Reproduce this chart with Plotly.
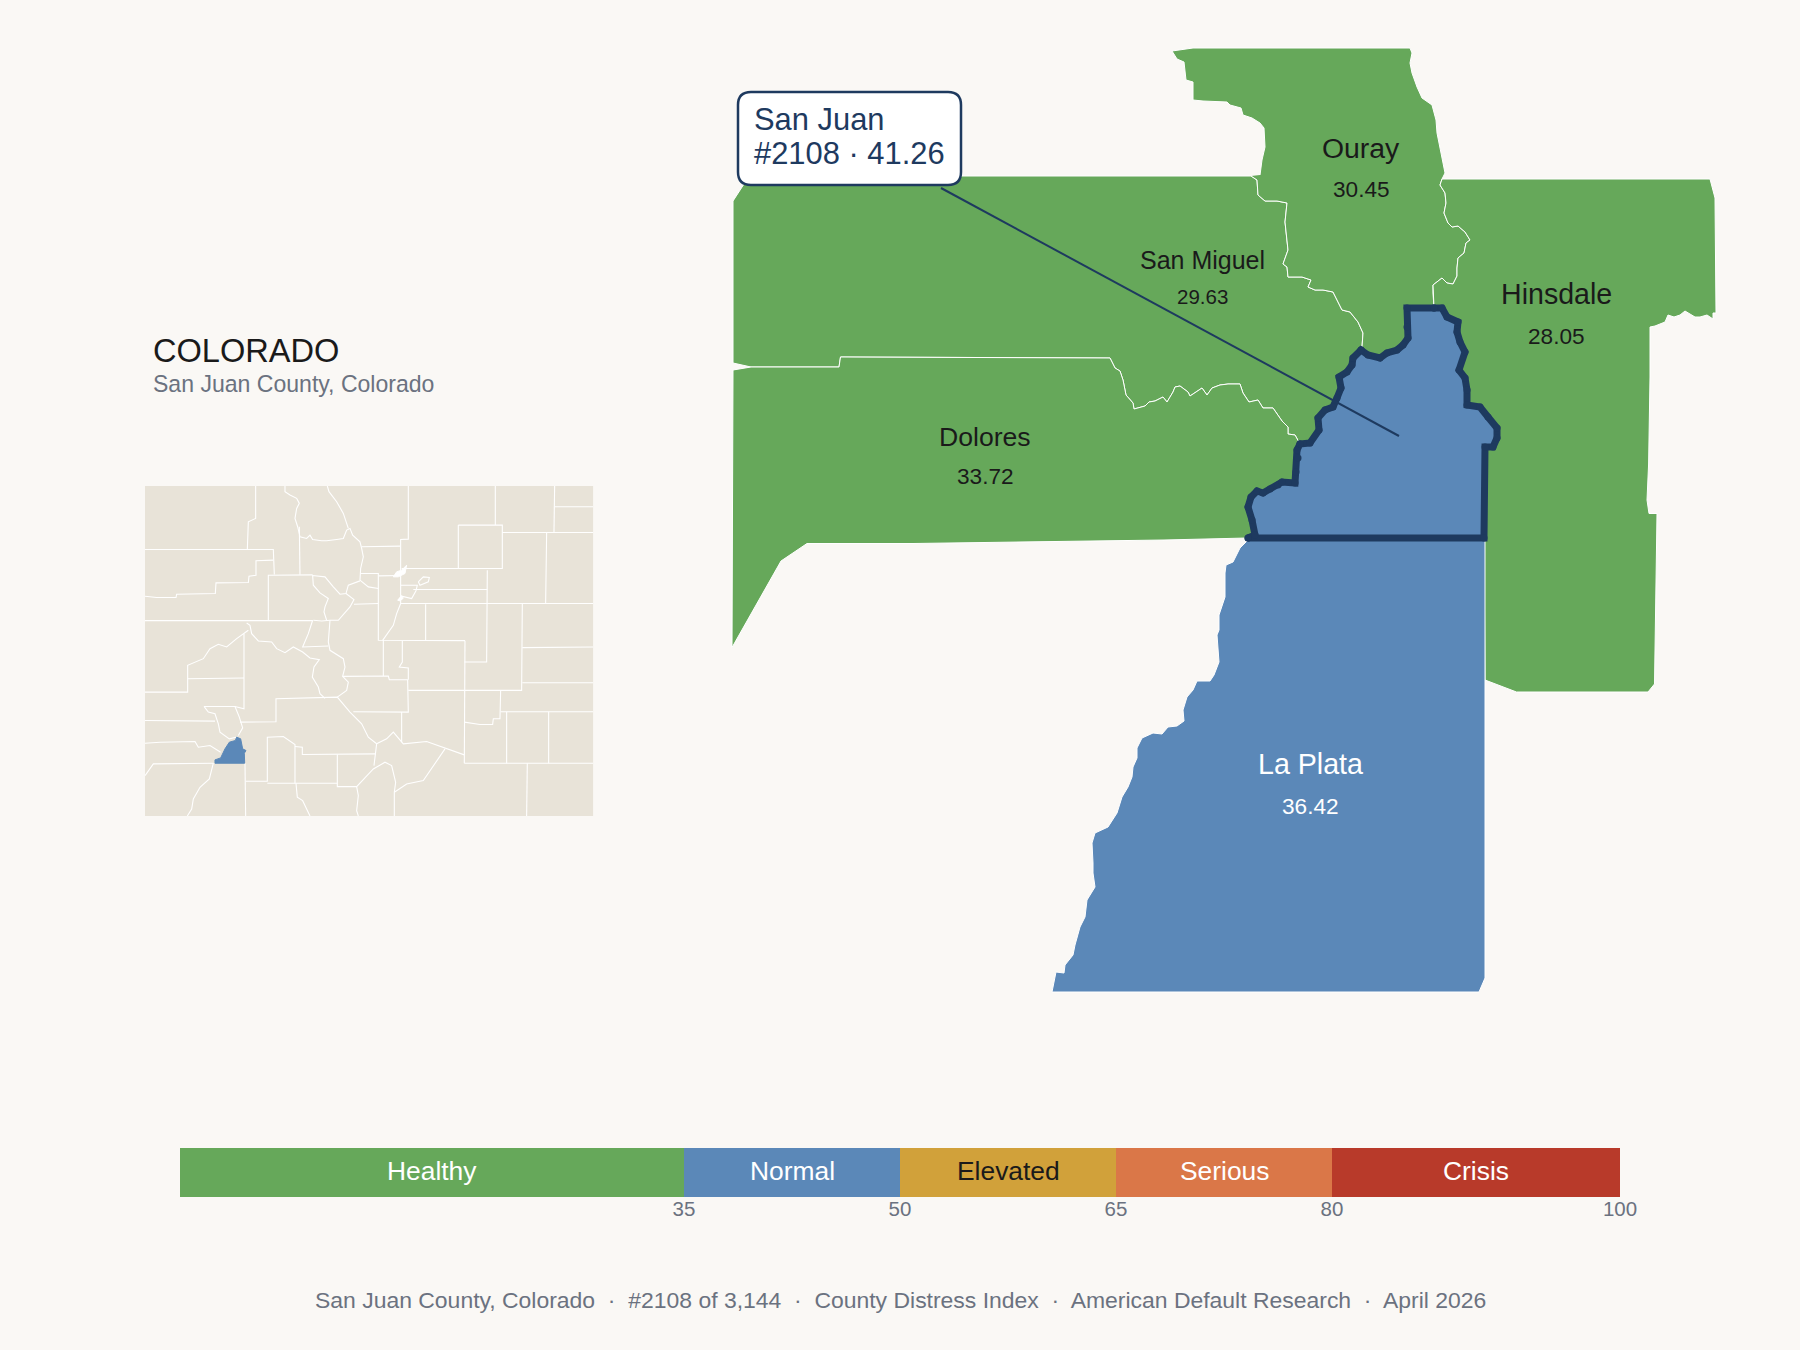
import plotly.graph_objects as go

FONT = "Liberation Sans"
BG = "#FAF8F5"
GREEN = "#66A85A"
BLUE = "#5B88B8"
NAVY = "#1E3A5F"
INK = "#1A1A1A"
GRAY = "#6B7280"
LAND = "#E8E3D8"

# ---------- detail map boundaries, shared between neighbouring counties (map units) ----------
SJ_A = [(1248,538),(1255,535),(1252,520),(1248,507),(1251,497),(1257,491),(1263,493),(1270,489),(1278,485),
        (1282,482),(1295,483),(1296,472),(1298,458),(1297,450),(1300,444)]
SJ_B = [(1300,444),(1310,443),(1319,430),(1318,418),(1325,410),(1333,407),(1337,398),(1341,388),(1339,377),
        (1347,372),(1352,365),(1353,358),(1361,350)]
SJ_C = [(1361,350),(1368,355),(1380,358),(1387,353),(1397,350),(1403,345),(1408,338),(1407,327),(1407,308),(1434,308)]
SJ_D = [(1434,308),(1442,308),(1447,317),(1458,322),(1457,332),(1460,342),(1465,352),(1459,370),(1465,378),
        (1467,390),(1467,405),(1480,407),(1488,417),(1497,428),(1497,438),(1493,447),(1485,447),(1484,538),(1248,538)]
OURAY_SM = [(1251,176),(1257,180),(1258,195),(1265,201),(1277,201),(1287,203),(1285,222),(1288,250),(1283,264),
            (1287,267),(1288,277),(1302,277),(1311,280),(1308,287),(1315,290),(1323,290),(1333,292),(1337,300),
            (1342,310),(1350,312),(1358,322),(1363,333),(1362,347)]
OURAY_HINS = [(1442,179),(1440,185),(1445,193),(1446,203),(1444,213),(1448,223),(1452,227),(1458,226),(1465,232),
              (1470,240),(1466,243),(1464,253),(1458,258),(1457,268),(1457,276),(1453,284),(1447,283),(1442,278),
              (1433,285),(1433,293),(1434,308)]
SM_DOL = [(733,370),(751,367),(839,367),(840.5,357),(1110,358),(1115,368),(1120,371),(1123,380),(1126,395),(1133,403),
          (1134,409),(1145,406),(1149,402),(1155,401),(1163,397),(1167,402),(1173,392),(1175,387),(1180,386),(1188,392),
          (1190,396),(1202,388),(1207,395),(1212,388),(1220,385),(1228,384),(1240,384),(1243,393),(1249,402),(1258,400),
          (1263,408),(1273,408),(1282,421),(1288,427),(1288,434),(1295,435),(1300,444)]
SM_OUTER = [(733,363),(733,201),(744,184),(758,176),(1251,176)]
DOL_OUTER = [(1247,538),(1164,540),(913,543.5),(807,543.5),(781,561),(732,647.5),(733,370)]
OURAY_OUTER = [(1260,175),(1262,160),(1265,147),(1264,128),(1260,123),(1252,118),(1243,115),(1241,108),(1230,105),
               (1227,102),(1203,101),(1193,100),(1193,82),(1186,80),(1184,62),(1177,59),(1172,51),(1193,48),(1410,48),
               (1412,53),(1410,63),(1412,73),(1417,87),(1422,98),(1432,105),(1436,120),(1437,133),(1441,152),(1445,173),(1442,179)]
HINS_OUTER = [(1442,179),(1710,179),(1715,198),(1716,313),(1713,313),(1713,319),(1707,315),(1700,317),(1695,317),
              (1685,311),(1680,315),(1674,317),(1668,315),(1665,322),(1655,326),(1650,327),(1650,377),(1648.6,464),
              (1647,500),(1649,513.5),(1657,513.5),(1656,594),(1654.5,684),(1648,692),(1516.5,692),(1485,680),(1484,538)]
LA_PLATA = [(1248,540),(1240,548),(1233,562),(1226,565),(1225,573),(1225,597),(1219,615),(1219,630),(1217,635),(1218,647),
            (1219,662),(1214,675),(1210,681),(1197,681),(1193,690),(1187,697),(1183,710),(1184,721),(1177,726),(1168,727),
            (1162,734),(1153,733),(1142,738),(1137,748),(1137,758),(1133,767),(1132,777),(1128,787),(1122,797),(1117,813),
            (1108,827),(1095,833),(1092,843),(1093,863),(1093,873),(1095,887),(1087,900),(1085,917),(1080,927),(1075,945),
            (1073,955),(1065,965),(1064,973),(1056,972),(1052,992),(1479,992),(1485,978),(1485,540),(1248,540)]

COUNTY_NAMES = ["San Miguel", "Dolores", "Ouray", "Hinsdale", "La Plata"]
COUNTY_SCORES = ["29.63", "33.72", "30.45", "28.05", "36.42"]
LABEL_X = [1202, 985, 1361, 1556, 1310]
LABEL_NAME_Y = [259.5, 436.5, 147.5, 293.5, 763.5]
LABEL_SCORE_Y = [296.5, 476, 189, 336, 806]
NAME_SIZES = [25, 26.6, 28.4, 28.6, 28.6]
SCORE_SIZES = [20.5, 22.6, 22.6, 22.6, 22.6]
LABEL_COLORS = [INK, INK, INK, INK, "#FFFFFF"]

LEADER_X = [941, 1399]
LEADER_Y = [188, 436]
CALLOUT = "M 751 92 L 948 92 Q 961 92 961 105 L 961 172 Q 961 185 948 185 L 751 185 Q 738 185 738 172 L 738 105 Q 738 92 751 92 Z"

# ---------- locator map: county lines across the whole state (locator units) ----------
STATE_X = [45, 1390, 1390, 45, 45]
STATE_Y = [48, 48, 1036, 1036, 48]
SJ_INSET = [(255,868),(272,862),(285,835),(298,815),(316,810),(320,800),(332,805),(338,835),(348,840),(343,848),(344,878),(255,878),(255,868)]
ENCLAVES = [
 [(790,320),(800,305),(815,300),(830,285),(825,310),(805,320),(790,320)],
 [(803,390),(815,376),(820,384),(810,392),(803,390)],
]
INSET_LINES = [
 [(377,48),(377,145),(355,155),(352,238)],
 [(45,238),(430,238),(433,313)],
 [(430,270),(378,272),(378,315),(357,318),(355,337),(258,338),(256,370),(140,372),(138,382),(80,382),(45,378)],
 [(45,451),(415,451),(548,451)],
 [(415,451),(415,315),(548,314)],
 [(465,48),(465,65),(480,75),(500,85),(508,100),(500,115),(495,145),(503,170),(510,200),(530,205),(540,195),(548,208),(575,212),(590,212),(620,208),(640,205),(650,180),(660,175),(668,195),(690,215),(695,235),(700,260),(692,295),(690,330)],
 [(508,170),(510,314)],
 [(592,48),(597,65),(620,95),(640,130),(655,175)],
 [(835,48),(835,207),(812,208),(812,400),(800,430),(790,465),(758,510)],
 [(695,230),(810,228)],
 [(692,310),(745,310),(745,510),(885,510),(1005,511)],
 [(746,317),(812,316)],
 [(690,330),(715,350),(745,355)],
 [(690,332),(655,345),(648,370),(630,372),(610,350),(585,320),(548,316),(550,345),(570,368),(595,385),(585,410),(582,425),(590,450)],
 [(648,370),(672,388),(660,410),(625,450),(600,450),(575,452),(550,450)],
 [(672,402),(745,400)],
 [(600,450),(595,515),(600,540),(640,565),(645,590),(638,618),(655,635),(650,660),(622,680)],
 [(638,618),(775,617),(778,628),(833,628),(835,725),(670,724)],
 [(760,510),(760,617)],
 [(817,511),(817,575),(808,590),(835,593),(835,628)],
 [(548,450),(535,490),(518,530),(595,527)],
 [(350,458),(360,465),(365,490),(385,512),(425,515),(440,535),(465,547),(490,530),(518,545),(540,563),(568,568),(552,590),(547,620),(565,650),(570,670),(585,684)],
 [(355,480),(320,505),(290,530),(265,522),(240,535),(220,565),(173,585),(173,665),(45,665)],
 [(173,625),(342,623)],
 [(342,490),(342,715),(315,708),(222,708)],
 [(222,708),(235,725),(255,730),(265,760),(270,785),(298,805),(318,800)],
 [(315,708),(328,740),(338,772),(325,795)],
 [(330,755),(438,754),(438,685),(622,680),(660,725),(695,760),(715,800),(740,820),(732,885)],
 [(45,750),(255,752)],
 [(45,818),(90,815),(195,813),(205,830),(240,825),(272,845)],
 [(45,915),(70,880),(250,878)],
 [(250,878),(238,925),(210,950),(190,985),(185,1015),(172,1036)],
 [(345,878),(347,1036)],
 [(347,932),(412,932),(412,800),(435,798),(460,798),(495,822),(495,938)],
 [(412,938),(622,938)],
 [(495,828),(517,830),(517,852),(738,850)],
 [(622,852),(622,948),(680,948),(730,895),(765,875),(785,885),(797,935),(793,965),(793,1036)],
 [(680,948),(685,975),(680,1020),(685,1036)],
 [(498,938),(502,980),(518,990),(540,1036)],
 [(740,820),(770,805),(790,785),(820,820),(890,813),(1003,853)],
 [(945,835),(915,880),(880,930),(830,940),(793,965)],
 [(815,725),(815,815)],
 [(1005,511),(1003,878)],
 [(1003,660),(1175,660),(1177,400)],
 [(1003,575),(1070,575),(1072,300)],
 [(835,660),(1003,660)],
 [(887,402),(887,510)],
 [(812,400),(1390,400)],
 [(1003,755),(1050,762),(1088,762),(1090,745),(1110,745),(1112,660)],
 [(1112,724),(1390,724)],
 [(1130,724),(1130,878)],
 [(1256,724),(1256,878)],
 [(1003,878),(1390,878)],
 [(1192,878),(1190,1036)],
 [(1177,532),(1390,530)],
 [(1177,637),(1390,637)],
 [(985,165),(1117,165),(1117,295),(985,295),(985,165)],
 [(1096,48),(1096,165)],
 [(1117,187),(1250,187),(1247,400)],
 [(1250,187),(1390,187)],
 [(1274,48),(1274,110),(1272,187)],
 [(1274,110),(1390,110)],
 [(815,295),(1072,295)],
 [(812,345),(845,345),(862,345),(858,362),(845,385),(815,378),(805,390)],
 [(850,358),(1072,358)],
 [(865,335),(880,320),(898,322),(895,335),(870,345),(865,335)],
]

# ---------- severity scale ----------
BAND_NAMES = ["Healthy", "Normal", "Elevated", "Serious", "Crisis"]
BAND_WIDTHS = [35, 15, 15, 15, 20]
BAND_STARTS = [0, 35, 50, 65, 80]
BAND_COLORS = [GREEN, BLUE, "#D1A13A", "#DA7748", "#B83A2A"]
BAND_TEXT = ["#FFFFFF", "#FFFFFF", INK, "#FFFFFF", "#FFFFFF"]
SCALE_TICKS = [35, 50, 65, 80, 100]
SCORE = 41.26
MARKER_HALF = 1.15
MARKER_RISE = 0.225

FOOTER = "San Juan County, Colorado \u00a0·\u00a0 #2108 of 3,144 \u00a0·\u00a0 County Distress Index \u00a0·\u00a0 American Default Research \u00a0·\u00a0 April 2026"


def xs(*segs):
    return [p[0] for s in segs for p in s]


def ys(*segs):
    return [p[1] for s in segs for p in s]


fig = go.Figure()


def poly(segs, color):
    fig.add_trace(go.Scatter(x=xs(*segs), y=ys(*segs), mode="lines", fill="toself", fillcolor=color,
                             line=dict(color="#FFFFFF", width=1), hoverinfo="skip", showlegend=False))


poly([SM_OUTER, OURAY_SM, SJ_B[::-1], SM_DOL[::-1][:-1], [(733, 363)]], GREEN)
poly([SM_DOL, SJ_A[::-1], DOL_OUTER], GREEN)
poly([OURAY_OUTER, OURAY_HINS, SJ_C[::-1], OURAY_SM[::-1]], GREEN)
poly([HINS_OUTER, SJ_D[::-1], OURAY_HINS[::-1]], GREEN)
poly([LA_PLATA], BLUE)
fig.add_trace(go.Scatter(x=xs(SJ_A, SJ_B, SJ_C, SJ_D), y=ys(SJ_A, SJ_B, SJ_C, SJ_D), mode="lines+markers",
                         fill="toself", fillcolor=BLUE, line=dict(color=NAVY, width=7),
                         marker=dict(color=NAVY, size=7), hoverinfo="skip", showlegend=False))
fig.add_trace(go.Scatter(x=LEADER_X, y=LEADER_Y, mode="lines", line=dict(color=NAVY, width=2),
                         hoverinfo="skip", showlegend=False))

# locator map
fig.add_trace(go.Scatter(x=STATE_X, y=STATE_Y, xaxis="x2", yaxis="y2", mode="lines", fill="toself",
                         fillcolor=LAND, line=dict(color=LAND, width=0), hoverinfo="skip", showlegend=False))
lx, ly = [], []
for seg in INSET_LINES:
    lx += [p[0] for p in seg] + [None]
    ly += [p[1] for p in seg] + [None]
fig.add_trace(go.Scatter(x=lx, y=ly, xaxis="x2", yaxis="y2", mode="lines", line=dict(color="#FFFFFF", width=1.1),
                         hoverinfo="skip", showlegend=False))
for seg in ENCLAVES:
    fig.add_trace(go.Scatter(x=xs(seg), y=ys(seg), xaxis="x2", yaxis="y2", mode="lines", fill="toself",
                             fillcolor="#FFFFFF", line=dict(color="#FFFFFF", width=1), hoverinfo="skip", showlegend=False))
fig.add_trace(go.Scatter(x=xs(SJ_INSET), y=ys(SJ_INSET), xaxis="x2", yaxis="y2", mode="lines", fill="toself",
                         fillcolor=BLUE, line=dict(color=BLUE, width=1), hoverinfo="skip", showlegend=False))

# scale
fig.add_trace(go.Bar(x=BAND_WIDTHS, y=[0.5] * 5, base=BAND_STARTS, width=1, orientation="h", xaxis="x3", yaxis="y3",
                     marker=dict(color=BAND_COLORS, line=dict(width=0)), hoverinfo="skip", showlegend=False))
fig.add_trace(go.Scatter(x=[SCORE - MARKER_HALF, SCORE + MARKER_HALF, SCORE, SCORE - MARKER_HALF],
                         y=[1 + MARKER_RISE, 1 + MARKER_RISE, 1, 1 + MARKER_RISE], xaxis="x3", yaxis="y3",
                         mode="lines", fill="toself", fillcolor=INK, line=dict(color=INK, width=0),
                         cliponaxis=False, hoverinfo="skip", showlegend=False))

ann = []


def label(x, y, text, size, color, anchor="center"):
    ann.append(dict(x=x, y=y, xref="x", yref="y", text=text, showarrow=False, xanchor=anchor, yanchor="middle",
                    font=dict(family=FONT, size=size, color=color)))


for i, name in enumerate(COUNTY_NAMES):
    label(LABEL_X[i], LABEL_NAME_Y[i], name, NAME_SIZES[i], LABEL_COLORS[i])
    label(LABEL_X[i], LABEL_SCORE_Y[i], COUNTY_SCORES[i], SCORE_SIZES[i], LABEL_COLORS[i])
for name, start, width, color in zip(BAND_NAMES, BAND_STARTS, BAND_WIDTHS, BAND_TEXT):
    ann.append(dict(x=start + width / 2, y=0.5, xref="x3", yref="y3", text=name, showarrow=False,
                    yshift=2, font=dict(family=FONT, size=26.4, color=color)))
label(752, 119, "San Juan", 30.9, NAVY, "left")
label(752, 153, "#2108 · 41.26", 30.9, NAVY, "left")
label(151, 350, "COLORADO", 32.6, INK, "left")
label(151, 384, "San Juan County, Colorado", 23.05, GRAY, "left")
label(900, 1299.7, FOOTER, 22.95, GRAY)

hidden = dict(visible=False, showgrid=False, zeroline=False, automargin=False)
fig.update_layout(
    width=1800, height=1350, autosize=False, margin=dict(l=0, r=0, t=0, b=0, pad=0, autoexpand=False),
    paper_bgcolor=BG, plot_bgcolor=BG, showlegend=False, annotations=ann, hovermode=False,
    shapes=[dict(type="path", path=CALLOUT, xref="x", yref="y", fillcolor="#FFFFFF",
                 line=dict(color=NAVY, width=2.5), layer="above")],
    xaxis=dict(hidden, domain=[0, 1], range=[0, 1800]),
    yaxis=dict(hidden, domain=[0, 1], range=[1350, 0]),
    xaxis2=dict(hidden, domain=[145 / 1800, 593.3 / 1800], range=[45, 1390], anchor="y2"),
    yaxis2=dict(hidden, domain=[1 - 816 / 1350, 1 - 486 / 1350], range=[1036, 48], anchor="x2"),
    xaxis3=dict(domain=[180 / 1800, 1620 / 1800], range=[0, 100], anchor="y3", tickmode="array", tickvals=SCALE_TICKS,
                automargin=False, showgrid=False, zeroline=False, showline=False, ticks="", ticklabelstandoff=-3,
                tickfont=dict(family=FONT, size=20.5, color=GRAY)),
    yaxis3=dict(hidden, domain=[1 - 1197 / 1350, 1 - 1148 / 1350], range=[0, 1], anchor="x3"),
)
fig.write_html("out.html", config=dict(displayModeBar=False, responsive=False),
               post_script=f"document.documentElement.style.overflow='hidden';document.body.style.margin='0';document.body.style.background='{BG}';")
